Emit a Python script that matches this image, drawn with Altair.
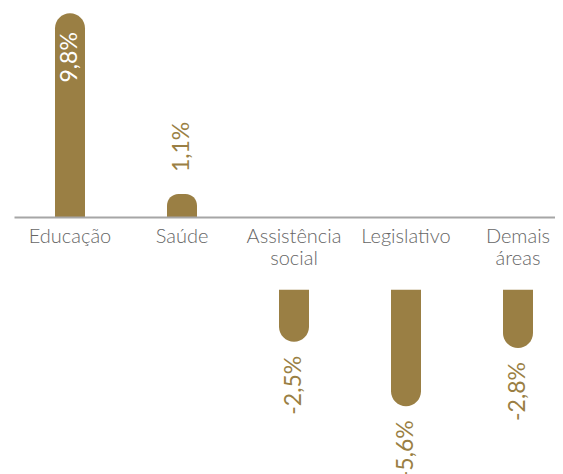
import altair as alt
import pandas as pd

categories = ["Educação", "Saúde", "Assistência social", "Legislativo", "Demais áreas"]
values = [9.8, 1.1, -2.5, -5.6, -2.8]
labels = ["9,8%", "1,1%", "-2,5%", "-5,6%", "-2,8%"]

GOLD = "#9a7f44"
GAP = 3.5  # negative bars start below the category labels (in value units)

W, H = 547, 466
BASE = 209
PPU = 20.8
ydom = [-(H - BASE) / PPU, BASE / PPU]

rows = []
for c, v, l in zip(categories, values, labels):
    start = 0.0 if v >= 0 else -GAP
    rows.append({"cat": c, "value": v, "label": l, "start": start, "end": start + v,
                 "kind": "in" if v > 5 else ("out" if v >= 0 else "neg")})
df = pd.DataFrame(rows)

yscale = alt.Scale(domain=ydom, nice=False, zero=False)

x = alt.X("cat:N", sort=categories,
          scale=alt.Scale(domain=categories, range=[6, 566], paddingInner=0, paddingOuter=0),
          axis=alt.Axis(title=None, orient="bottom", offset=-(H - BASE), ticks=False, tickSize=0,
                        domainColor="#a6a6a6", domainWidth=2, labelAngle=0,
                        labelFont="Lato", labelFontSize=20, labelFontWeight=300, labelColor="#666666",
                        labelPadding=9, labelLineHeight=22, labelBaseline="top",
                        labelExpr="split(datum.label, ' ')", zindex=1, grid=False))

base = alt.Chart(df).encode(x=x)

pos_bars = base.transform_filter("datum.value >= 0").mark_bar(
    width=30, color=GOLD, cornerRadiusTopLeft=15, cornerRadiusTopRight=15
).encode(y=alt.Y("start:Q", scale=yscale, axis=None), y2="end:Q")

neg_bars = base.transform_filter("datum.value < 0").mark_bar(
    width=30, color=GOLD, cornerRadiusBottomLeft=15, cornerRadiusBottomRight=15
).encode(y=alt.Y("start:Q", scale=yscale, axis=None), y2="end:Q")

yt = alt.Y("end:Q", scale=yscale, axis=None)

txt_in = base.transform_filter("datum.kind == 'in'").mark_text(
    angle=270, align="right", baseline="middle", dx=-19, font="Lato", fontSize=23, color="white"
).encode(y=yt, text="label:N")

txt_out = base.transform_filter("datum.kind == 'out'").mark_text(
    angle=270, align="left", baseline="middle", dx=22, font="Lato", fontSize=23, color=GOLD
).encode(y=yt, text="label:N")

txt_neg = base.transform_filter("datum.kind == 'neg'").mark_text(
    angle=270, align="right", baseline="middle", dx=-14, font="Lato", fontSize=23, color=GOLD
).encode(y=yt, text="label:N")

chart = alt.layer(pos_bars, neg_bars, txt_in, txt_out, txt_neg).properties(
    width=W, height=H, padding=0, autosize=alt.AutoSizeParams(type="none")
).configure_view(stroke=None)

chart.save("out.html", embed_options={"renderer": "svg", "actions": False})
